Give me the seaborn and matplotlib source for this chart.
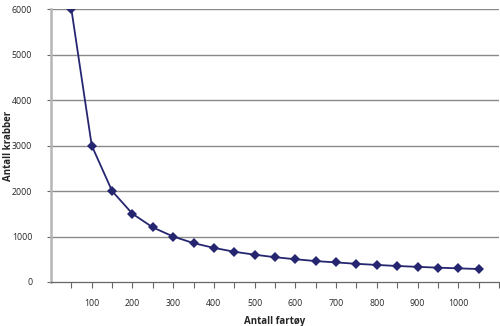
import matplotlib
matplotlib.use("Agg")
import matplotlib.pyplot as plt
import pandas as pd
import seaborn as sns

# ── Dados ────────────────────────────────────────────────
fartoy = [50, 100, 150, 200, 250, 300, 350, 400, 450, 500, 550,
          600, 650, 700, 750, 800, 850, 900, 950, 1000, 1050]
krabber = [6000, 3000, 2000, 1500, 1200, 1000, 855, 750, 665, 600, 545,
           500, 460, 430, 400, 375, 352, 333, 315, 300, 285]
x_labels = [100, 200, 300, 400, 500, 600, 700, 800, 900, 1000]
y_ticks = [0, 1000, 2000, 3000, 4000, 5000, 6000]

df = pd.DataFrame({"fartoy": fartoy, "krabber": krabber})

# ── Visual ───────────────────────────────────────────────
sns.set_theme(style="white")
plt.rcParams["font.family"] = ["Open Sans", "DejaVu Sans"]

fig = plt.figure(figsize=(5.0, 3.26), dpi=100)
ax = fig.add_axes([0.102, 0.135, 0.896, 0.837])

for y in y_ticks[1:]:
    ax.axhline(y, color="#8a8a8a", linewidth=1.0, zorder=1)

sns.lineplot(data=df, x="fartoy", y="krabber", ax=ax, color="#262670",
             linewidth=1.3, marker="D", markersize=5, markeredgewidth=0,
             zorder=3)

ax.set_xlim(0, 1100)
ax.set_ylim(0, 6000)
ax.set_xticks(fartoy + [1100])
ax.set_xticklabels([str(v) if v in x_labels else "" for v in fartoy + [1100]])
ax.set_yticks(y_ticks)

for s in ["top", "right"]:
    ax.spines[s].set_visible(False)
ax.spines["left"].set_color("#b5b5b5")
ax.spines["left"].set_linewidth(1.8)
ax.spines["bottom"].set_color("#666666")
ax.spines["bottom"].set_linewidth(0.9)

ax.tick_params(axis="x", direction="out", length=4, width=0.8, color="#666666",
               labelsize=6.3, pad=8, bottom=True)
ax.tick_params(axis="y", direction="out", length=3, width=0.8, color="#666666",
               labelsize=6.3, pad=10.5, left=True)

ax.set_xlabel("Antall fartøy", fontsize=7, fontweight="bold", labelpad=6)
ax.set_ylabel("Antall krabber", fontsize=7, fontweight="bold")
ax.yaxis.set_label_coords(-0.083, 0.5)

plt.savefig("out.png", dpi=100)
